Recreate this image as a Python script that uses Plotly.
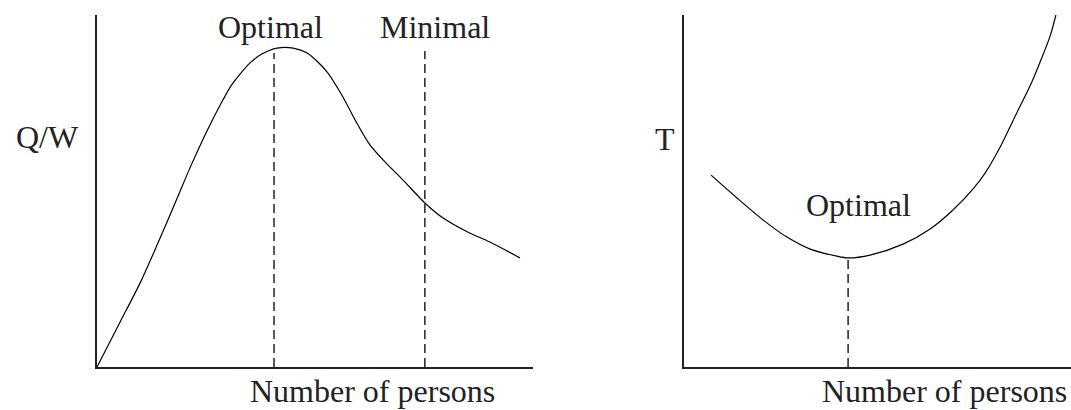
import plotly.graph_objects as go

# ---- data (arbitrary units 0..100) ----
qw_persons = [0, 5.3, 9.9, 13.8, 18.3, 21.3, 25.2, 28.9, 30.7, 32.8, 35.1, 37.8, 41.3, 45.0,
              48.2, 52.8, 56.4, 59.6, 62.6, 66.1, 70.2, 75.2, 79.4, 84.9, 90.1, 97.0]
qw_values = [0, 12.8, 23.9, 34.7, 47.7, 56.5, 67.0, 75.9, 79.8, 83.2, 86.4, 88.9, 90.6, 90.6,
             89.2, 83.8, 76.7, 69.3, 63.1, 58.2, 53.1, 46.6, 42.3, 38.4, 35.5, 31.0]
qw_optimal_x = 40.6
qw_optimal_top = 89.2
qw_minimal_x = 75.2
qw_minimal_top = 89.8

t_persons = [7.0, 13.7, 20.4, 26.6, 32.6, 39.5, 42.4, 48.1, 56.6, 63.6, 69.5, 74.7,
             77.8, 81.7, 86.0, 89.4, 92.0, 94.6, 96.1]
t_values = [54.5, 48.0, 41.8, 36.9, 33.5, 31.5, 31.0, 31.8, 34.9, 39.2, 44.6, 50.6,
            55.1, 62.5, 72.2, 79.8, 86.6, 94.0, 100.0]
t_optimal_x = 42.4
t_optimal_top = 31.0

x_label = "Number of persons"
left_y_label = "Q/W"
right_y_label = "T"
optimal_label = "Optimal"
minimal_label = "Minimal"

# ---- figure ----
W, H = 1071, 410
FONT = "Liberation Serif"
FS = 32
TXT = "#222222"
fig = go.Figure()

curve = dict(color="black", width=1.2, shape="spline", smoothing=0.8)
dash = dict(color="black", width=1.3, dash="9px,5px")

fig.add_trace(go.Scatter(x=qw_persons, y=qw_values, mode="lines", line=curve,
                         xaxis="x", yaxis="y", hoverinfo="skip"))
fig.add_trace(go.Scatter(x=[qw_optimal_x, qw_optimal_x], y=[0, qw_optimal_top], mode="lines",
                         line=dash, xaxis="x", yaxis="y", hoverinfo="skip"))
fig.add_trace(go.Scatter(x=[qw_minimal_x, qw_minimal_x], y=[0, qw_minimal_top], mode="lines",
                         line=dash, xaxis="x", yaxis="y", hoverinfo="skip"))

fig.add_trace(go.Scatter(x=t_persons, y=t_values, mode="lines", line=curve,
                         xaxis="x2", yaxis="y2", hoverinfo="skip"))
fig.add_trace(go.Scatter(x=[t_optimal_x, t_optimal_x], y=[0, t_optimal_top], mode="lines",
                         line=dash, xaxis="x2", yaxis="y2", hoverinfo="skip"))

ax_common = dict(showgrid=False, zeroline=False, showticklabels=False, ticks="",
                 showline=True, linecolor="#222222", linewidth=2, fixedrange=True)
ydom = [43 / H, 395 / H]
fig.update_layout(
    width=W, height=H,
    margin=dict(l=0, r=0, t=0, b=0),
    paper_bgcolor="white", plot_bgcolor="white",
    showlegend=False,
    xaxis=dict(domain=[97 / W, 533 / W], range=[0, 100], anchor="y", **ax_common),
    yaxis=dict(domain=ydom, range=[0, 100], anchor="x", **ax_common),
    xaxis2=dict(domain=[684 / W, 1.0], range=[0, 100], anchor="y2", **ax_common),
    yaxis2=dict(domain=ydom, range=[0, 100], anchor="x2", **ax_common),
    font=dict(family=FONT, size=FS, color=TXT),
)

ann = []
ann.append(dict(text=optimal_label, x=39.9, y=(H - 27) / H, xref="x", yref="paper",
                yanchor="middle", xanchor="center"))
ann.append(dict(text=minimal_label, x=77.5, y=(H - 27) / H, xref="x", yref="paper",
                yanchor="middle", xanchor="center"))
ann.append(dict(text=x_label, x=63.1, y=(H - 391) / H, xref="x", yref="paper",
                yanchor="middle", xanchor="center"))
ann.append(dict(text=left_y_label, x=47 / W, y=(H - 137) / H, xref="paper", yref="paper",
                yanchor="middle", xanchor="center"))
ann.append(dict(text=right_y_label, x=665 / W, y=(H - 139) / H, xref="paper", yref="paper",
                yanchor="middle", xanchor="center"))
ann.append(dict(text=optimal_label, x=45.0, y=(H - 205) / H, xref="x2", yref="paper",
                yanchor="middle", xanchor="center"))
ann.append(dict(text=x_label, x=67.4, y=(H - 391) / H, xref="x2", yref="paper",
                yanchor="middle", xanchor="center"))
for a in ann:
    a.update(showarrow=False, font=dict(family=FONT, size=FS, color=TXT))
fig.update_layout(annotations=ann)

fig.write_html("out.html", config={"displayModeBar": False},
               post_script="document.body.style.margin='0';document.body.style.overflow='hidden';")
